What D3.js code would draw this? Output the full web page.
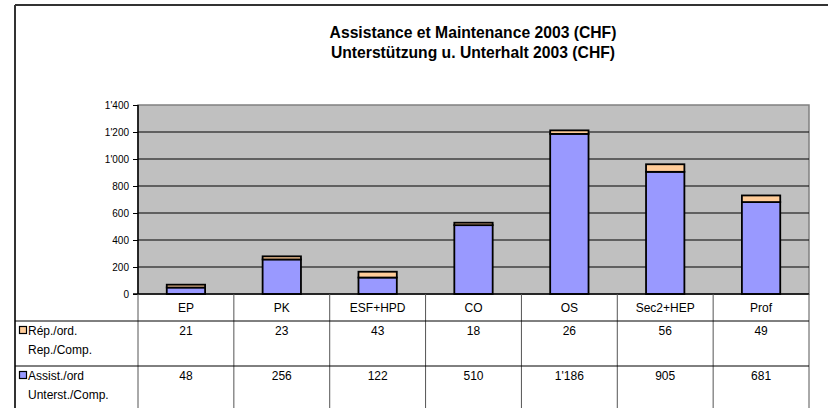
<!DOCTYPE html>
<html>
<head>
<meta charset="utf-8">
<script src="https://cdn.jsdelivr.net/npm/d3@7"></script>
<style>
  body { margin: 0; background: #fff; }
  text { font-family: "Liberation Sans", Arial, sans-serif; fill: #000; }
</style>
</head>
<body>
<svg id="chart"></svg>
<script>
// Chart data
const categories = ["EP", "PK", "ESF+HPD", "CO", "OS", "Sec2+HEP", "Prof"];
const repValues = [21, 23, 43, 18, 26, 56, 49];          // Rép./ord. - Rep./Comp.
const assistValues = [48, 256, 122, 510, 1186, 905, 681]; // Assist./ord - Unterst./Comp.
const yTicks = [0, 200, 400, 600, 800, 1000, 1200, 1400];
const titleLines = ["Assistance et Maintenance 2003 (CHF)", "Unterstützung u. Unterhalt 2003 (CHF)"];
const seriesNames = [
  ["Rép./ord.", "Rep./Comp."],
  ["Assist./ord", "Unterst./Comp."]
];

const width = 828, height = 408;
const plot = {left: 138, right: 809, top: 105, bottom: 294};
const rowTops = [321, 366];
const colors = {rep: "#FFCC99", assist: "#9999FF"};

// Swiss style thousands separator: 1'400
const fmt = d3.formatLocale({decimal: ".", thousands: "'", grouping: [3], currency: ["", ""]}).format(",");

const svg = d3.select("#chart")
  .attr("width", width)
  .attr("height", height);

// Outer frame of the chart object
svg.append("line")
  .attr("x1", 15).attr("x2", width)
  .attr("y1", 5).attr("y2", 5)
  .attr("stroke", "#333").attr("stroke-width", 2);
svg.append("line")
  .attr("x1", 15).attr("x2", 15)
  .attr("y1", 5).attr("y2", height)
  .attr("stroke", "#333").attr("stroke-width", 2);

// Title
svg.append("g").selectAll("text")
  .data(titleLines)
  .join("text")
  .attr("x", 473)
  .attr("y", (d, i) => 38 + i * 19.5)
  .attr("text-anchor", "middle")
  .style("font-size", "15.7px")
  .style("font-weight", "bold")
  .text(d => d);

// Scales
const xScale = d3.scaleBand()
  .domain(categories)
  .range([plot.left, plot.right])
  .padding(0);

const yScale = d3.scaleLinear()
  .domain([0, 1400])
  .range([plot.bottom, plot.top]);

// Plot area background
svg.append("rect")
  .attr("x", plot.left)
  .attr("y", plot.top)
  .attr("width", plot.right - plot.left)
  .attr("height", plot.bottom - plot.top)
  .attr("fill", "#C0C0C0")
  .attr("stroke", "#808080")
  .attr("stroke-width", 1.5);

// Gridlines
svg.append("g").selectAll("line")
  .data(yTicks.filter(d => d > 0 && d < 1400))
  .join("line")
  .attr("x1", plot.left).attr("x2", plot.right)
  .attr("y1", d => yScale(d)).attr("y2", d => yScale(d))
  .attr("stroke", "#000").attr("stroke-width", 1);

// Stacked bars (assist at the bottom, rep on top)
const rows = categories.map((c, i) => ({cat: c, assist: assistValues[i], rep: repValues[i]}));
const stacked = d3.stack().keys(["assist", "rep"])(rows);
const barWidth = xScale.bandwidth() * 0.4;

svg.append("g").selectAll("g")
  .data(stacked)
  .join("g")
  .attr("fill", d => colors[d.key])
  .selectAll("rect")
  .data(d => d)
  .join("rect")
  .attr("x", d => xScale(d.data.cat) + (xScale.bandwidth() - barWidth) / 2)
  .attr("y", d => yScale(d[1]))
  .attr("width", barWidth)
  .attr("height", d => yScale(d[0]) - yScale(d[1]))
  .attr("stroke", "#000")
  .attr("stroke-width", 1.8);

// Y axis
const yAxis = svg.append("g")
  .attr("transform", `translate(${plot.left},0)`)
  .call(d3.axisLeft(yScale).tickValues(yTicks).tickFormat(fmt).tickSize(5).tickPadding(4));
yAxis.select(".domain").attr("stroke", "#000").attr("stroke-width", 1.5).attr("d", `M0,${plot.top}V${plot.bottom}`);
yAxis.selectAll(".tick line").attr("stroke", "#000");
yAxis.selectAll(".tick text")
  .style("font-size", "10px")
  .style("font-family", "Liberation Sans, Arial, sans-serif")
  .attr("fill", "#000");

// Bottom axis line
svg.append("line")
  .attr("x1", plot.left - 5).attr("x2", plot.right)
  .attr("y1", plot.bottom).attr("y2", plot.bottom)
  .attr("stroke", "#000").attr("stroke-width", 1.5);

// Data table: column separators
const colEdges = categories.map(c => xScale(c)).concat([plot.right]);
svg.append("g").selectAll("line")
  .data(colEdges)
  .join("line")
  .attr("x1", d => d).attr("x2", d => d)
  .attr("y1", plot.bottom).attr("y2", height)
  .attr("stroke", "#555").attr("stroke-width", 1);

// Data table: row separators
svg.append("g").selectAll("line")
  .data(rowTops)
  .join("line")
  .attr("x1", 15).attr("x2", plot.right)
  .attr("y1", d => d).attr("y2", d => d)
  .attr("stroke", "#000").attr("stroke-width", 1);

// Category labels
svg.append("g").selectAll("text")
  .data(categories)
  .join("text")
  .attr("x", d => xScale(d) + xScale.bandwidth() / 2)
  .attr("y", 311.5)
  .attr("text-anchor", "middle")
  .style("font-size", "12px")
  .text(d => d);

// Table values
const tableSeries = [repValues, assistValues];
const seriesColors = [colors.rep, colors.assist];
tableSeries.forEach((vals, r) => {
  svg.append("g").selectAll("text")
    .data(vals)
    .join("text")
    .attr("x", (d, i) => xScale(categories[i]) + xScale.bandwidth() / 2)
    .attr("y", rowTops[r] + 14)
    .attr("text-anchor", "middle")
    .style("font-size", "12px")
    .text(d => fmt(d));

  // Legend key
  svg.append("rect")
    .attr("x", 19.5)
    .attr("y", rowTops[r] + 5.5)
    .attr("width", 7)
    .attr("height", 7)
    .attr("fill", seriesColors[r])
    .attr("stroke", "#000")
    .attr("stroke-width", 1.2);

  // Series name (two lines)
  svg.append("g").selectAll("text")
    .data(seriesNames[r])
    .join("text")
    .attr("x", 28)
    .attr("y", (d, i) => rowTops[r] + 14 + i * 18.5)
    .style("font-size", "12px")
    .text(d => d);
});
</script>
</body>
</html>
